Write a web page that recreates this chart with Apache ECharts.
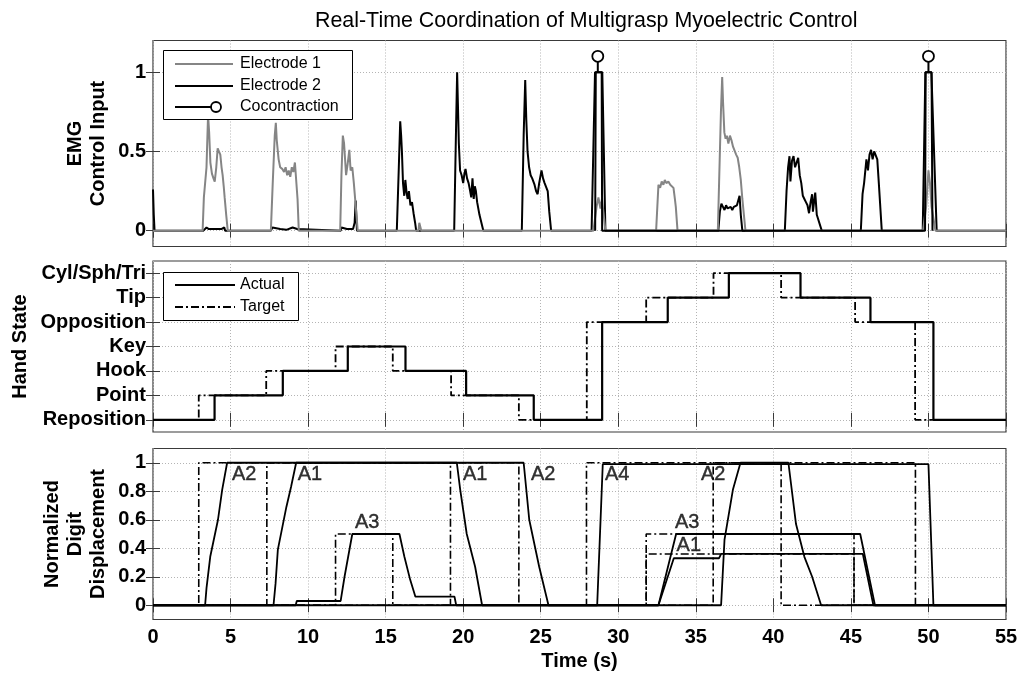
<!DOCTYPE html>
<html><head><meta charset="utf-8">
<script src="https://cdn.jsdelivr.net/npm/echarts@6/dist/echarts.min.js"></script>
<style>html,body{margin:0;padding:0;background:#fff}#c{width:1025px;height:677px}</style>
</head><body><div id="c"></div>
<script>
// ---------------- DATA ----------------
const titleText = 'Real-Time Coordination of Multigrasp Myoelectric Control';
const emgTicks = [0, 0.5, 1];
const dispTicks = [0, 0.2, 0.4, 0.6, 0.8, 1];
const stateLabels = ['Reposition', 'Point', 'Hook', 'Key', 'Opposition', 'Tip', 'Cyl/Sph/Tri'];
const emgLegendNames = ['Electrode 1', 'Electrode 2', 'Cocontraction'];
const stateLegendNames = ['Actual', 'Target'];

// Panel 1: EMG control input [time s, value]
const electrode1 = [
  [0,0],
  [3.2,0],[3.28,0.21],[3.45,0.4],[3.55,0.73],[3.62,0.62],[3.7,0.43],[3.8,0.36],[3.9,0.33],[3.98,0.31],[4.08,0.4],[4.17,0.52],[4.25,0.5],[4.34,0.48],[4.42,0.4],[4.49,0.35],[4.56,0.28],[4.62,0.21],[4.72,0.1],[4.82,0],
  [7.6,0],[7.72,0.3],[7.85,0.6],[7.92,0.68],[7.98,0.57],[8.1,0.45],[8.2,0.4],[8.33,0.39],[8.45,0.37],[8.55,0.4],[8.65,0.35],[8.75,0.38],[8.85,0.34],[8.95,0.4],[9.05,0.37],[9.15,0.43],[9.25,0.44],[9.32,0.2],[9.4,0],
  [12.07,0],[12.15,0.35],[12.24,0.6],[12.32,0.55],[12.45,0.35],[12.55,0.42],[12.66,0.51],[12.74,0.38],[12.85,0.4],[12.95,0.3],[13.1,0.12],[13.2,0],
  [17.12,0],[17.17,0.05],[17.27,0.05],[17.3,0],
  [28.4,0],[28.6,0.15],[28.72,0.21],[28.85,0.14],[28.95,0.2],[29.17,0],
  [32.44,0],[32.59,0.29],[32.7,0.27],[32.8,0.31],[32.91,0.29],[33.0,0.32],[33.1,0.3],[33.23,0.31],[33.35,0.29],[33.45,0.3],[33.56,0.27],[33.65,0.2],[33.71,0.15],[33.82,0],
  [36.42,0],[36.5,0.3],[36.62,0.75],[36.7,0.97],[36.76,0.8],[36.84,0.62],[36.92,0.58],[37.0,0.6],[37.1,0.55],[37.2,0.6],[37.3,0.57],[37.4,0.53],[37.5,0.52],[37.6,0.48],[37.7,0.46],[37.8,0.4],[37.9,0.32],[38.0,0.2],[38.1,0.1],[38.2,0],
  [49.65,0],[49.85,0.15],[50.0,0.38],[50.1,0.3],[50.2,0.15],[50.45,0],
  [55,0]
];
const electrode2 = [
  [0,0.26],[0.05,0.1],[0.1,0],
  [3.25,0],[3.3,0.01],[3.45,0.02],[3.6,0.01],[4.0,0.01],[4.4,0.01],[4.6,0.02],[4.65,0],
  [7.6,0],[7.7,0.02],[7.8,0.01],[8.2,0.01],[8.6,0.005],[9.0,0.02],[9.3,0.01],[9.35,0],
  [12.1,0],[12.15,0.02],[12.5,0.01],[12.9,0.01],[13.0,0.05],[13.07,0.19],[13.15,0],
  [15.72,0],[15.85,0.4],[15.94,0.69],[16.0,0.6],[16.05,0.5],[16.12,0.3],[16.2,0.22],[16.27,0.32],[16.35,0.24],[16.42,0.2],[16.5,0.25],[16.6,0.16],[16.7,0.18],[16.8,0.11],[16.9,0.05],[16.97,0],
  [19.42,0],[19.55,0.7],[19.61,1.0],[19.66,0.8],[19.72,0.55],[19.8,0.38],[19.9,0.35],[20.0,0.3],[20.08,0.36],[20.15,0.39],[20.25,0.33],[20.35,0.3],[20.45,0.25],[20.52,0.21],[20.6,0.33],[20.68,0.2],[20.75,0.28],[20.82,0.25],[20.9,0.18],[21.05,0.1],[21.3,0],
  [23.78,0],[23.9,0.6],[24.0,0.95],[24.07,0.7],[24.15,0.5],[24.25,0.4],[24.35,0.35],[24.45,0.33],[24.6,0.29],[24.7,0.25],[24.8,0.23],[24.9,0.3],[25.05,0.38],[25.15,0.33],[25.25,0.3],[25.35,0.3],[25.45,0.25],[25.55,0.12],[25.67,0],
  [28.28,0],[28.5,1],[28.97,1],[29.17,0],
  [36.45,0],[36.55,0.12],[36.65,0.17],[36.75,0.15],[36.85,0.13],[36.95,0.16],[37.05,0.14],[37.15,0.13],[37.25,0.15],[37.35,0.13],[37.45,0.15],[37.55,0.14],[37.65,0.16],[37.75,0.15],[37.82,0.22],[37.9,0.1],[38.0,0],
  [40.74,0],[40.85,0.25],[40.95,0.4],[41.04,0.47],[41.1,0.31],[41.2,0.44],[41.3,0.47],[41.4,0.4],[41.5,0.43],[41.6,0.46],[41.7,0.35],[41.8,0.3],[41.9,0.22],[42.0,0.2],[42.1,0.18],[42.2,0.16],[42.3,0.11],[42.4,0.18],[42.5,0.23],[42.55,0.12],[42.65,0.2],[42.7,0.24],[42.8,0.1],[43.12,0],
  [45.64,0],[45.75,0.23],[45.85,0.3],[46.0,0.45],[46.1,0.38],[46.2,0.48],[46.3,0.51],[46.4,0.45],[46.5,0.5],[46.6,0.49],[46.7,0.45],[46.8,0.3],[46.99,0],
  [49.63,0],[49.8,1],[50.19,1],[50.53,0],
  [55,0]
];
// Cocontraction pulses; the point at 1.1 carries the circle marker
const cocontraction = [
  [28.51,0],[28.55,1],[28.68,1],[28.68,1.1],[28.68,1],[28.93,1],[28.96,0],
  [49.78,0],[49.82,1],[50.0,1],[50.0,1.1],[50.0,1],[50.2,1],[50.26,0]
];
const cocontractionMarkerValue = 1.1;

// Panel 2: hand state (step changes) time / state
const actualTimes  = [0, 3.97, 8.37, 12.56, 16.28, 20.19, 24.55, 28.96, 33.19, 37.13, 41.75, 46.26, 50.32, 55];
const actualStates = ['Reposition','Point','Hook','Key','Hook','Point','Reposition','Opposition','Tip','Cyl/Sph/Tri','Tip','Opposition','Reposition','Reposition'];
const targetTimes  = [0, 2.95, 7.30, 11.77, 15.46, 19.22, 23.59, 27.97, 31.8, 36.14, 40.5, 45.27, 49.14, 55];
const targetStates = ['Reposition','Point','Hook','Key','Hook','Point','Reposition','Opposition','Tip','Cyl/Sph/Tri','Tip','Opposition','Reposition','Reposition'];

// Panel 3: normalized digit displacement [time s, value]
const actualA1 = [[0,0],[7.77,0],[7.9,0.15],[8.05,0.39],[8.6,0.69],[8.9,0.83],[9.23,1],[19.59,1],[19.81,0.81],[20.23,0.5],[20.77,0.27],[21.22,0],[32.59,0],[33.58,0.33],[36.5,0.33],[36.63,0.36],[45.77,0.36],[46.45,0],[55,0]];
const actualA2 = [[0,0],[3.36,0],[3.45,0.12],[3.69,0.34],[4.19,0.6],[4.46,0.81],[4.78,1],[23.9,1],[24.26,0.6],[24.9,0.27],[25.5,0],[36.63,0],[36.85,0.46],[37.39,0.81],[37.88,1],[40.97,1],[41.46,0.57],[42.0,0.34],[42.5,0.2],[43.08,0],[55,0]];
const actualA3 = [[0,0],[9.2,0],[9.27,0.03],[12.1,0.03],[12.35,0.2],[12.85,0.5],[15.89,0.5],[16.21,0.34],[16.58,0.18],[16.92,0.06],[19.44,0.06],[19.55,0],[32.59,0],[33.73,0.5],[45.6,0.5],[46.55,0],[55,0]];
const actualA4 = [[0,0],[28.64,0],[29.0,0.99],[50.0,0.99],[50.32,0],[55,0]];
const targetA1 = [[0,0],[7.34,0],[7.34,1],[19.18,1],[19.18,0],[31.8,0],[31.8,0.36],[45.2,0.36],[45.2,0],[55,0]];
const targetA2 = [[0,0],[2.95,0],[2.95,1],[23.59,1],[23.59,0],[36.12,0],[36.12,1],[40.5,1],[40.5,0],[55,0]];
const targetA3 = [[0,0],[11.77,0],[11.77,0.5],[15.46,0.5],[15.46,0],[31.8,0],[31.8,0.5],[45.2,0.5],[45.2,0],[55,0]];
const targetA4 = [[0,0],[27.95,0],[27.95,1],[49.16,1],[49.16,0],[55,0]];
// Curve labels [time, value, text]
const curveLabels = [[5.06,0.92,'A2'],[9.3,0.92,'A1'],[12.99,0.58,'A3'],[19.95,0.92,'A1'],[24.34,0.92,'A2'],[29.11,0.92,'A4'],[35.3,0.92,'A2'],[33.62,0.58,'A3'],[33.73,0.42,'A1']];

// ---------------- STYLE / BUILD ----------------
const FONT = '"Liberation Sans", Arial, sans-serif';
const frameColor = '#3a3a3a';
const gray = '#858585';
const gridLine = {show: true, lineStyle: {color: '#b4b4b4', type: [1, 2], width: 1}};
const tick = {show: true, inside: true, length: 7, lineStyle: {color: frameColor, width: 1}};
const axisText = {color: '#000', fontSize: 20, fontWeight: 'bold', fontFamily: FONT};
const dashDot = [8, 3, 2, 3];

const grids = [
  {left: 153, top: 40.5, width: 853, height: 206},
  {left: 153, top: 261, width: 853, height: 171},
  {left: 153, top: 448.5, width: 853, height: 171}
].map(g => Object.assign(g, {show: true, borderColor: frameColor, borderWidth: 1.2, backgroundColor: '#fff'}));

const xAxes = [];
for (let g = 0; g < 3; g++) {
  xAxes.push({
    type: 'value', gridIndex: g, position: 'bottom', min: 0, max: 55, interval: 5,
    axisLine: {show: false}, axisTick: tick, splitLine: gridLine,
    axisLabel: g === 2 ? Object.assign({margin: 8}, axisText) : {show: false},
    name: g === 2 ? 'Time (s)' : '', nameLocation: 'middle', nameGap: 32, nameMoveOverlap: false,
    nameTextStyle: axisText
  });
  xAxes.push({
    type: 'value', gridIndex: g, position: 'top', min: 0, max: 55, interval: 5,
    axisLine: {show: false}, axisTick: tick, splitLine: {show: false}, axisLabel: {show: false}
  });
}

function yPair(g, min, max, ticks, name, gap, fmt) {
  return [
    {
      type: 'value', gridIndex: g, position: 'left', min: min, max: max,
      axisLine: {show: false},
      axisTick: Object.assign({customValues: ticks}, tick),
      splitLine: gridLine,
      axisLabel: Object.assign({customValues: ticks, margin: 7, formatter: fmt}, axisText),
      name: name, nameLocation: 'middle', nameRotate: 90, nameGap: gap, nameMoveOverlap: false,
      nameTextStyle: Object.assign({lineHeight: 23, align: 'center'}, axisText)
    },
    {
      type: 'value', gridIndex: g, position: 'right', min: min, max: max,
      axisLine: {show: false},
      axisTick: Object.assign({customValues: ticks}, tick),
      splitLine: {show: false}, axisLabel: {show: false}
    }
  ];
}
const stateIdx = stateLabels.map((s, i) => i);
const yAxes = [].concat(
  yPair(0, -0.1, 1.2, emgTicks, 'EMG\nControl Input', 43, v => String(v)),
  yPair(1, -0.5, 6.5, stateIdx, 'Hand State', 121, v => stateLabels[Math.round(v)] || ''),
  yPair(2, -0.1, 1.1, dispTicks, 'Normalized\nDigit\nDisplacement', 43, v => String(v))
);

function lineS(name, data, g, color, width, type, extra) {
  return Object.assign({
    name: name, type: 'line', data: data, xAxisIndex: g * 2, yAxisIndex: g * 2,
    symbol: 'none', showSymbol: false, silent: true,
    lineStyle: {color: color, width: width, type: type || 'solid'},
    itemStyle: {color: color}
  }, extra || {});
}

const cocoData = cocontraction.map(p => (p[1] === cocontractionMarkerValue)
  ? {value: p, symbol: 'circle', symbolSize: 11}
  : {value: p, symbol: 'none'});

const series = [
  lineS(emgLegendNames[1], electrode2, 0, '#000', 2),
  lineS(emgLegendNames[0], electrode1, 0, gray, 2),
  lineS(emgLegendNames[2], cocoData, 0, '#000', 2, 'solid', {
    symbol: 'emptyCircle', showSymbol: true, symbolSize: 11,
    itemStyle: {color: '#fff', borderColor: '#000', borderWidth: 1.8}
  }),
  lineS(stateLegendNames[1], targetTimes.map((t, i) => [t, stateLabels.indexOf(targetStates[i])]), 1, '#000', 1.8, dashDot, {step: 'end'}),
  lineS(stateLegendNames[0], actualTimes.map((t, i) => [t, stateLabels.indexOf(actualStates[i])]), 1, '#000', 2.2, 'solid', {step: 'end'}),
  lineS('Target A1', targetA1, 2, '#000', 1.6, dashDot),
  lineS('Target A2', targetA2, 2, '#000', 1.6, dashDot),
  lineS('Target A3', targetA3, 2, '#000', 1.6, dashDot),
  lineS('Target A4', targetA4, 2, '#000', 1.6, dashDot),
  lineS('A1', actualA1, 2, '#000', 1.8),
  lineS('A2', actualA2, 2, '#000', 1.8),
  lineS('A3', actualA3, 2, '#000', 1.8),
  lineS('A4', actualA4, 2, '#000', 1.8),
  {
    name: 'labels', type: 'scatter', xAxisIndex: 4, yAxisIndex: 4, silent: true,
    symbol: 'circle', symbolSize: 1, itemStyle: {color: 'rgba(0,0,0,0)'},
    data: curveLabels.map(d => ({value: [d[0], d[1]], name: d[2]})),
    label: {show: true, formatter: '{b}', position: 'right', distance: 0,
      color: '#000', fontSize: 20, fontFamily: FONT, textBorderColor: '#000', textBorderWidth: 0.4}
  }
];

// Legend boxes drawn as graphics (MATLAB-style icons)
const LFONT = '16px ' + FONT;
function legendText(txt, y) {
  return {type: 'text', z: 101, style: {text: txt, x: 240, y: y, font: LFONT, fill: '#000', verticalAlign: 'middle', align: 'left'}};
}
const graphics = [
  {type: 'rect', z: 100, shape: {x: 163.5, y: 50.5, width: 189, height: 69}, style: {fill: '#fff', stroke: '#000', lineWidth: 1}},
  {type: 'line', z: 101, shape: {x1: 175, y1: 64, x2: 233, y2: 64}, style: {stroke: gray, lineWidth: 2}},
  legendText(emgLegendNames[0], 64),
  {type: 'line', z: 101, shape: {x1: 175, y1: 86, x2: 233, y2: 86}, style: {stroke: '#000', lineWidth: 2}},
  legendText(emgLegendNames[1], 86),
  {type: 'line', z: 101, shape: {x1: 175, y1: 107, x2: 211, y2: 107}, style: {stroke: '#000', lineWidth: 2}},
  {type: 'circle', z: 101, shape: {cx: 216, cy: 107, r: 5}, style: {fill: '#fff', stroke: '#000', lineWidth: 1.8}},
  legendText(emgLegendNames[2], 107),
  {type: 'rect', z: 100, shape: {x: 163.5, y: 272.5, width: 135, height: 48}, style: {fill: '#fff', stroke: '#000', lineWidth: 1}},
  {type: 'line', z: 101, shape: {x1: 175, y1: 285, x2: 235, y2: 285}, style: {stroke: '#000', lineWidth: 2.2}},
  legendText(stateLegendNames[0], 285),
  {type: 'line', z: 101, shape: {x1: 175, y1: 307, x2: 235, y2: 307}, style: {stroke: '#000', lineWidth: 1.8, lineDash: dashDot}},
  legendText(stateLegendNames[1], 307)
];

const option = {
  animation: false,
  backgroundColor: '#fff',
  title: {text: titleText, left: 310, top: 6,
    textStyle: {color: '#000', fontSize: 21.4, fontWeight: 'normal', fontFamily: FONT}},
  grid: grids,
  xAxis: xAxes,
  yAxis: yAxes,
  graphic: graphics,
  series: series
};
const chart = echarts.init(document.getElementById('c'), null, {renderer: 'canvas'});
chart.setOption(option);
</script></body></html>
